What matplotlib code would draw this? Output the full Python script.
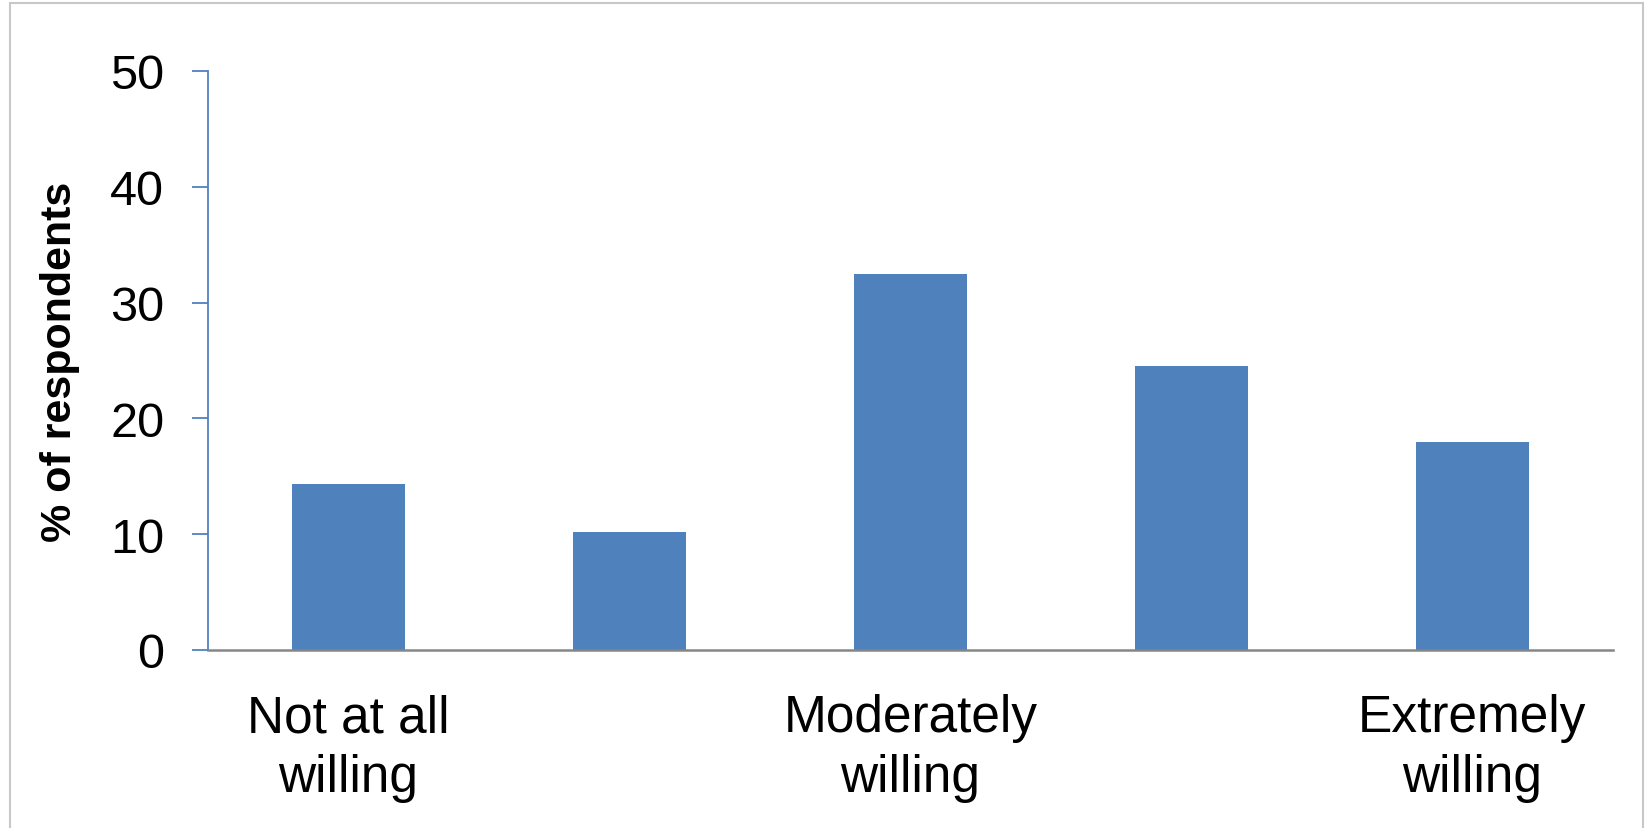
import matplotlib.pyplot as plt
from matplotlib.patches import Rectangle

# survey answers, 5-point willingness scale
positions = [0, 1, 2, 3, 4]
percent = [14.3, 10.2, 32.5, 24.5, 18.0]
label_positions = [0, 2, 4]
labels = ["Not at all\nwilling", "Moderately\nwilling", "Extremely\nwilling"]
yticks = [0, 10, 20, 30, 40, 50]

plt.rcParams['font.family'] = ['Liberation Sans', 'DejaVu Sans']

fig = plt.figure(figsize=(16.49, 8.29), dpi=100)
ax = fig.add_axes([208 / 1649, 1 - 651 / 829, (1613 - 208) / 1649, (651 - 72) / 829])

ax.bar(positions, percent, width=0.40, color="#4F81BD", zorder=2)

ax.set_xlim(-0.5, 4.5)
ax.set_ylim(0, 50)
ax.set_yticks(yticks)
ax.set_xticks(label_positions)
ax.set_xticklabels(labels, fontsize=37, linespacing=1.28)
ax.tick_params(axis="y", labelsize=35, length=11.5, width=1.3, color="#4F81BD", pad=20)
ax.tick_params(axis="x", length=0, pad=31)

ax.set_ylabel("% of respondents", fontsize=31, fontweight="bold", labelpad=22)

for side in ["top", "right"]:
    ax.spines[side].set_visible(False)
ax.spines["left"].set_color("#4F81BD")
ax.spines["left"].set_linewidth(1.3)
ax.spines["bottom"].set_color("#868686")
ax.spines["bottom"].set_linewidth(1.8)

# thin grey frame round the whole chart
fig.patches.append(Rectangle((10 / 1649, -0.01), 1633 / 1649, 1 - 4 / 829 + 0.01,
                             transform=fig.transFigure, fill=False,
                             edgecolor="#C8C8C8", linewidth=1.5))

fig.savefig("out.png", dpi=100)
